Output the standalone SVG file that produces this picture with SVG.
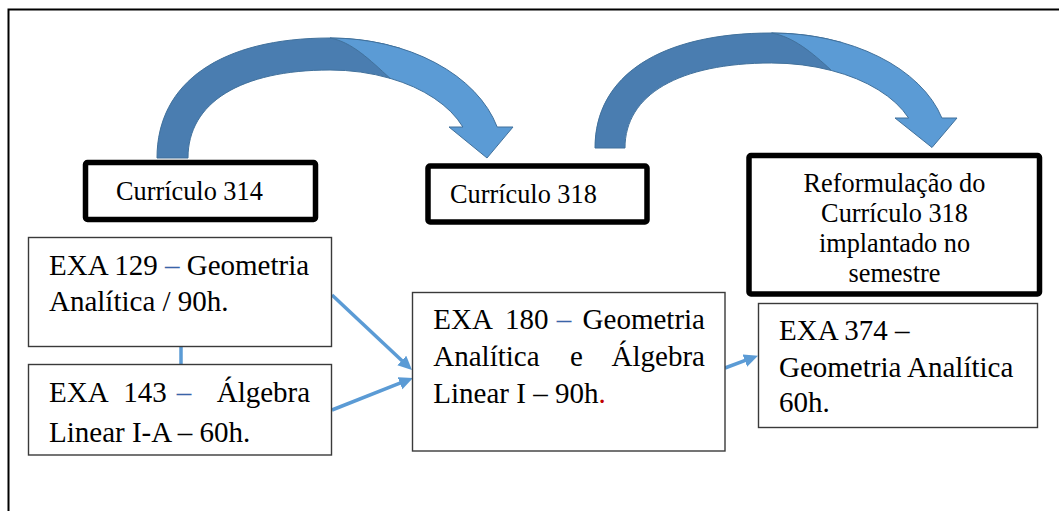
<svg xmlns="http://www.w3.org/2000/svg" width="1059" height="511" viewBox="0 0 1059 511">
<defs>
<style>
.t{font-family:"Liberation Serif","Times New Roman",serif;fill:#000}
.big{font-size:29px}
.hd{font-size:26.3px}
.thin{fill:#fff;stroke:#3a3a3a;stroke-width:1.4}
.thick{fill:#fff;stroke:#000;stroke-width:5.5}
.dk{fill:#4A7DB0;stroke:#41719C;stroke-width:1}
.lt{fill:#5B9BD5;stroke:#41719C;stroke-width:1}
.con{stroke:#5B9BD5;stroke-width:3.5;fill:none}
.bd{fill:#3A64A8}
</style>
<marker id="ah" markerUnits="userSpaceOnUse" markerWidth="16" markerHeight="14" refX="4" refY="6.5" orient="auto">
<path d="M0,0 L14,6.5 L0,13 Z" fill="#5B9BD5"/>
</marker>
</defs>
<rect x="8.5" y="9.5" width="1070" height="530" fill="#fff" stroke="#000" stroke-width="2"/>

<g id="curved-arrow-1">
<path class="dk" d="M157,158 C157,82.4 221,38 330,38 A173,120 0 0 1 400,48.3 L390,78.3 A142,88 0 0 0 330,70 C240.5,70 188,102.6 188,158 Z"/>
<path class="lt" d="M330,38 A173,120 0 0 1 497.2,127 L513,127 L487,158 L449,127 L462.9,127 A142,88 0 0 0 390,78.3 C370,60 352,42 330,38 Z"/>
</g>
<g id="curved-arrow-2">
<path class="dk" d="M595,148 C595,75.5 660.3,33 771.5,33 A176.5,115 0 0 1 841.5,42.4 L831.5,70.5 A146.5,85 0 0 0 771.5,63 C679.2,63 625,94.5 625,148 Z"/>
<path class="lt" d="M771.5,33 A176.5,115 0 0 1 941.9,118 L957,118 L932,147.5 L895,118 L908.6,118 A146.5,85 0 0 0 831.5,70.5 C811.5,52 793.5,37 771.5,33 Z"/>
</g>

<g id="connectors">
<line class="con" x1="181" y1="347" x2="181" y2="364" stroke-width="4"/>
<line class="con" x1="332" y1="295" x2="404.7" y2="363.2" marker-end="url(#ah)"/>
<line class="con" x1="332" y1="410" x2="403.7" y2="381.7" marker-end="url(#ah)"/>
<line class="con" x1="725" y1="368" x2="748.6" y2="359.2" marker-end="url(#ah)"/>
</g>

<g id="curriculo-314">
<rect class="thick" x="85.5" y="162.5" width="230" height="57" rx="2"/>
<text class="t hd" x="116" y="200">Currículo 314</text>
</g>
<g id="curriculo-318">
<rect class="thick" x="428" y="166" width="219" height="56" rx="2"/>
<text class="t hd" x="450" y="202.5">Currículo 318</text>
</g>
<g id="reformulacao">
<rect class="thick" x="749" y="155.5" width="290.5" height="138.5" rx="2"/>
<text class="t hd" text-anchor="middle" x="894.5" y="191.5">Reformulação do</text>
<text class="t hd" text-anchor="middle" x="894.5" y="222">Currículo 318</text>
<text class="t hd" text-anchor="middle" x="894.5" y="251.5">implantado no</text>
<text class="t hd" text-anchor="middle" x="894.5" y="281.5">semestre</text>
</g>

<g id="exa-129">
<rect class="thin" x="28.5" y="237.5" width="303" height="109"/>
<text class="t big" x="49" y="275">EXA 129 <tspan class="bd">–</tspan> Geometria</text>
<text class="t big" x="49" y="311">Analítica / 90h.</text>
</g>
<g id="exa-143">
<rect class="thin" x="28.5" y="364.5" width="303" height="90.5"/>
<text class="t big" y="402"><tspan x="49">EXA</tspan><tspan x="123.3">143</tspan><tspan class="bd" x="176.7">–</tspan><tspan x="216.7">Álgebra</tspan></text>
<text class="t big" x="49" y="442">Linear I-A – 60h.</text>
</g>
<g id="exa-180">
<rect class="thin" x="412.5" y="292.5" width="312.5" height="158.5"/>
<text class="t big" y="329"><tspan x="433.3">EXA</tspan><tspan x="505">180</tspan><tspan class="bd" x="556.7">–</tspan><tspan x="582.6">Geometria</tspan></text>
<text class="t big" y="366"><tspan x="433.3">Analítica</tspan><tspan x="570">e</tspan><tspan x="611.6">Álgebra</tspan></text>
<text class="t big" x="433.3" y="403">Linear I – 90h<tspan fill="#C00000">.</tspan></text>
</g>
<g id="exa-374">
<rect class="thin" x="758.5" y="303.5" width="279" height="124"/>
<text class="t big" x="779" y="340">EXA 374 –</text>
<text class="t big" x="779" y="376.5">Geometria Analítica</text>
<text class="t big" x="779" y="411.5">60h.</text>
</g>
</svg>
